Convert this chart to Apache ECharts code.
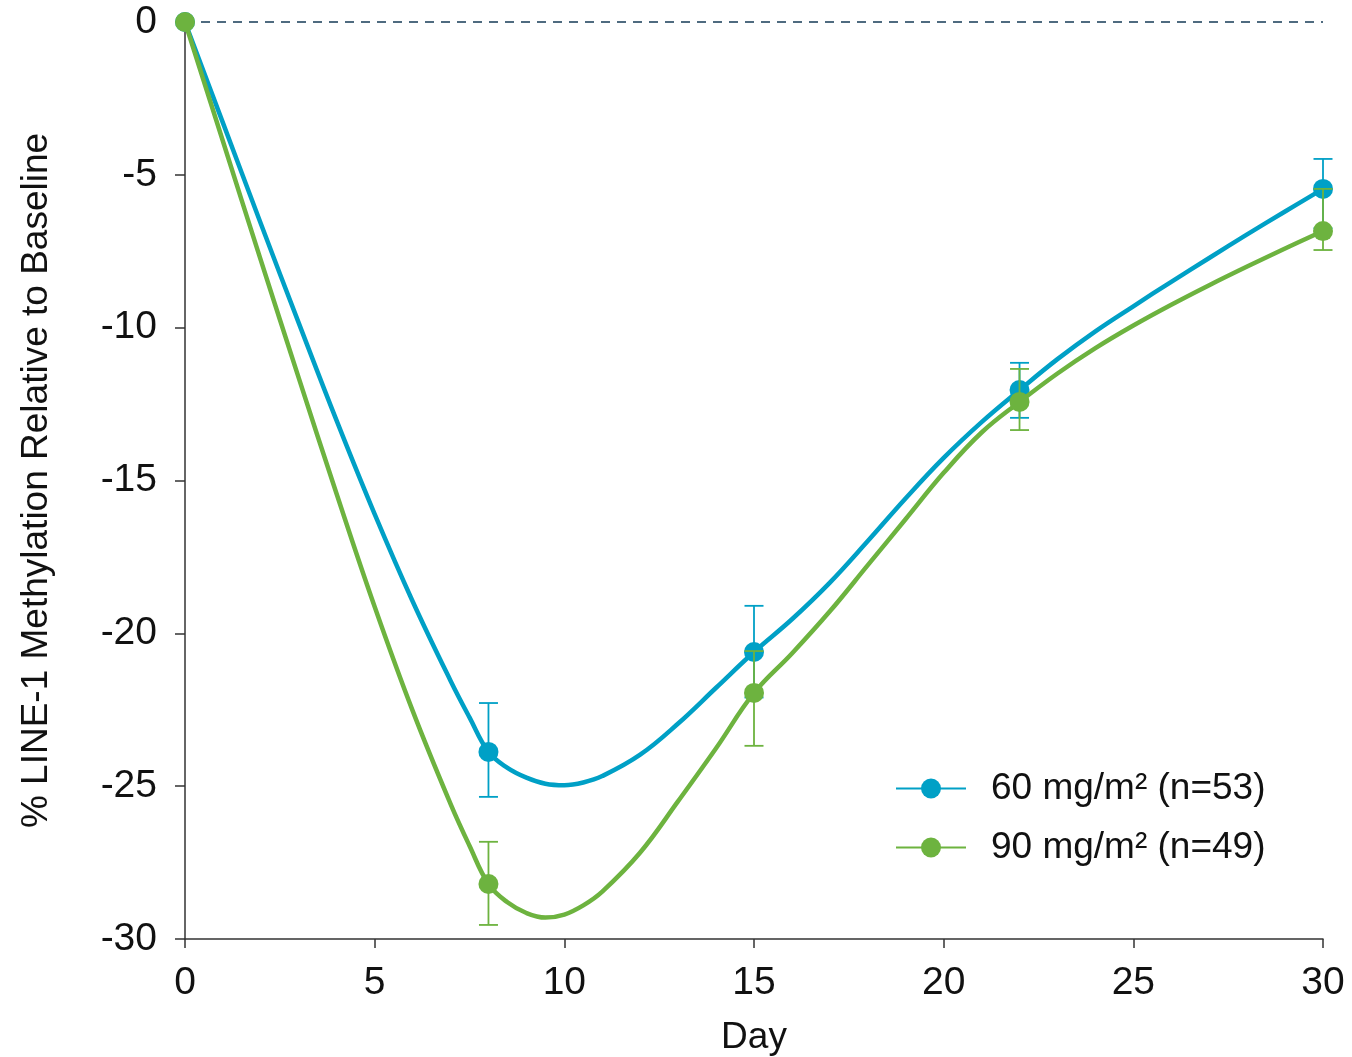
<!DOCTYPE html>
<html>
<head>
<meta charset="utf-8">
<script src="https://cdn.jsdelivr.net/npm/echarts@6/dist/echarts.min.js"></script>
<style>
html,body{margin:0;padding:0;background:#fff;}
#chart{width:1352px;height:1057px;}
</style>
</head>
<body>
<div id="chart"></div>
<script>
// Observed time points (days) and group means with error bars
const obsDays = [0, 8, 15, 22, 30];
const mean60 = [0, -23.88, -20.61, -12.04, -5.46];
const low60  = [0, -25.35, -22.10, -12.95, -6.75];
const high60 = [0, -22.28, -19.10, -11.15, -4.48];
const mean90 = [0, -28.20, -21.95, -12.43, -6.84];
const low90  = [0, -29.54, -23.68, -13.35, -7.46];
const high90 = [0, -26.82, -20.58, -11.35, -5.46];

// Fitted curves
const curveDays = [0, 1, 2, 3, 4, 5, 6, 7, 7.5, 8, 8.5, 9, 9.5, 10, 10.5, 11, 12, 13, 14, 15, 16, 17, 18, 19, 20, 21, 22, 23, 24, 25, 26, 27, 28, 29, 30];
const curve60 = [0, -3.3, -6.6, -9.85, -13.05, -16.1, -18.95, -21.55, -22.75, -23.88, -24.4, -24.72, -24.92, -24.97, -24.88, -24.67, -23.97, -22.95, -21.78, -20.61, -19.54, -18.34, -16.98, -15.58, -14.26, -13.09, -12.04, -11.03, -10.12, -9.3, -8.5, -7.72, -6.95, -6.2, -5.46];
const curve90 = [0, -3.9, -7.8, -11.65, -15.45, -19.13, -22.53, -25.58, -26.95, -28.2, -28.8, -29.15, -29.3, -29.2, -28.9, -28.45, -27.17, -25.49, -23.76, -21.95, -20.66, -19.28, -17.77, -16.26, -14.75, -13.43, -12.43, -11.5, -10.67, -9.93, -9.25, -8.61, -8.0, -7.41, -6.84];

const xTicks = [0, 5, 10, 15, 20, 25, 30];
const yTicks = [-30, -25, -20, -15, -10, -5, 0];
const seriesNames = ['60 mg/m\u00B2 (n=53)', '90 mg/m\u00B2 (n=49)'];

const C60 = '#00a0c6';
const C90 = '#6db33f';
const FONT = 'Liberation Sans, Arial, sans-serif';

function zip(a, b) { return a.map((v, i) => [v, b[i]]); }
function errData(lo, hi) { return obsDays.map((d, i) => [d, lo[i], hi[i]]).filter(r => r[1] !== r[2]); }

function errRender(color) {
  return function (params, api) {
    const x = api.value(0);
    const p1 = api.coord([x, api.value(1)]);
    const p2 = api.coord([x, api.value(2)]);
    const hw = 9.5;
    const st = { stroke: color, lineWidth: 1.8 };
    return {
      type: 'group',
      children: [
        { type: 'line', shape: { x1: p1[0], y1: p1[1], x2: p2[0], y2: p2[1] }, style: st },
        { type: 'line', shape: { x1: p1[0] - hw, y1: p1[1], x2: p1[0] + hw, y2: p1[1] }, style: st },
        { type: 'line', shape: { x1: p2[0] - hw, y1: p2[1], x2: p2[0] + hw, y2: p2[1] }, style: st }
      ]
    };
  };
}

const chart = echarts.init(document.getElementById('chart'));
chart.setOption({
  animation: false,
  backgroundColor: '#fff',
  grid: { left: 185, right: 29, top: 22, bottom: 118, containLabel: false, outerBoundsMode: 'none' },
  legend: {
    data: seriesNames,
    orient: 'vertical',
    left: 890,
    top: 765,
    itemWidth: 70,
    itemHeight: 25,
    itemGap: 22,
    textStyle: { fontFamily: FONT, fontSize: 37, color: '#111', padding: [0, 0, 0, 20] }
  },
  xAxis: {
    type: 'value',
    min: 0, max: 30, interval: 5,
    name: 'Day',
    nameLocation: 'middle',
    nameGap: 80,
    nameTextStyle: { fontFamily: FONT, fontSize: 37, color: '#111' },
    axisLine: { onZero: false, lineStyle: { color: '#333', width: 1.5 } },
    axisTick: { show: true, length: 9, lineStyle: { color: '#333', width: 1.5 } },
    axisLabel: { fontFamily: FONT, fontSize: 39, color: '#111', margin: 25,
      customValues: xTicks },
    splitLine: { show: false }
  },
  yAxis: {
    type: 'value',
    min: -30, max: 0, interval: 5,
    name: '% LINE-1 Methylation Relative to Baseline',
    nameLocation: 'middle',
    nameGap: 130,
    nameRotate: 90,
    nameTextStyle: { fontFamily: FONT, fontSize: 37, color: '#111' },
    axisLine: { show: true, onZero: false, lineStyle: { color: '#333', width: 1.5 } },
    axisTick: { show: true, length: 10, lineStyle: { color: '#333', width: 1.5 } },
    axisLabel: { fontFamily: FONT, fontSize: 39, color: '#111', margin: 28,
      customValues: yTicks },
    splitLine: { show: false }
  },
  series: [
    {
      name: seriesNames[0], type: 'line', data: zip(curveDays, curve60),
      smooth: 0.4, showSymbol: false, symbol: 'circle', symbolSize: 20,
      lineStyle: { color: C60, width: 4.5 }, itemStyle: { color: C60 }, z: 2,
      markLine: {
        silent: true, symbol: 'none', label: { show: false },
        lineStyle: { color: '#4f6b80', type: [9, 7], width: 2 },
        data: [{ yAxis: 0 }]
      }
    },
    { name: 'err60', type: 'custom', data: errData(low60, high60), renderItem: errRender(C60), z: 3 },
    {
      name: 'pts60', type: 'scatter', data: zip(obsDays, mean60), symbol: 'circle', symbolSize: 20,
      itemStyle: { color: C60, opacity: 1 }, z: 4
    },
    {
      name: seriesNames[1], type: 'line', data: zip(curveDays, curve90),
      smooth: 0.4, showSymbol: false, symbol: 'circle', symbolSize: 20,
      lineStyle: { color: C90, width: 4.5 }, itemStyle: { color: C90 }, z: 5
    },
    { name: 'err90', type: 'custom', data: errData(low90, high90), renderItem: errRender(C90), z: 6 },
    {
      name: 'pts90', type: 'scatter', data: zip(obsDays, mean90), symbol: 'circle', symbolSize: 20,
      itemStyle: { color: C90, opacity: 1 }, z: 7
    }
  ]
});
</script>
</body>
</html>
